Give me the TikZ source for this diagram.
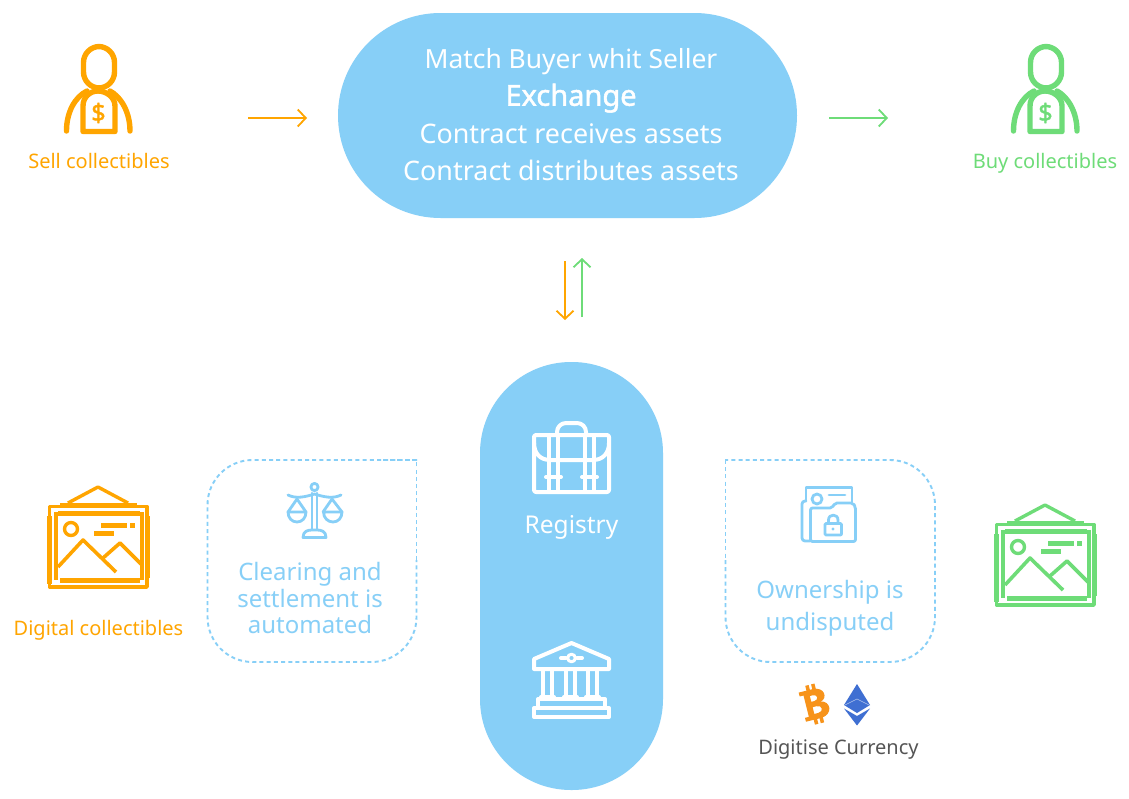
\documentclass[tikz,border=0pt]{standalone}
\usepackage{fontspec}
\setmainfont{Noto Sans}[AutoFakeBold=1.6]
\usetikzlibrary{arrows.meta}
\definecolor{skyb}{HTML}{87CFF7}
\definecolor{orng}{HTML}{FFA500}
\definecolor{grn}{HTML}{6EDC78}
\definecolor{grayt}{HTML}{555555}
\definecolor{ethb}{HTML}{3F6FD2}
\definecolor{btco}{HTML}{F7931A}
\tikzset{
  x=1pt,y=-1pt,
  capsule/.style={fill=skyb,draw=none,inner sep=0pt},
  lab/.style={inner sep=0pt,anchor=base,font=\fontsize{20}{23}\selectfont},
  bluelab/.style={inner sep=0pt,align=center,text=skyb,font=\fontsize{24}{26.5}\selectfont},
  flow/.style={line width=1.8pt,-{Straight Barb[length=8pt,width=17pt,line width=1.8pt]}},
  dashbox/.style={draw=skyb,line width=1.9pt,dash pattern=on 4pt off 3.2pt},
  ico/.style={line width=4pt,line join=round,line cap=round},
}
\newcommand{\iconperson}[2]{%
\begin{scope}[shift={(#1,0)},ico,draw=#2,line width=5.4pt]
  \draw[rounded corners=16pt] (83.5,46.5) rectangle (114.5,88);
  \draw (66.5,131) .. controls (66.5,112) and (75,97) .. (87,91);
  \draw (130,131) .. controls (130,112) and (121,97) .. (110,91);
  \draw (83,131.5) -- (83,106) .. controls (83,97) and (90,91) .. (98,91) .. controls (106,91) and (115,97) .. (115,106) -- (115,131.5) -- cycle;
  \node[inner sep=0pt,text=#2,font=\fontsize{25}{25}\selectfont\bfseries] at (98.5,113) {\$};
\end{scope}}
\newcommand{\iconframe}[3]{%
\begin{scope}[shift={(#1,#2)},draw=#3,line join=round]
  \draw[line width=3.4pt] (68,503) -- (98,487) -- (128,503);
  \draw[line width=3.4pt] (49.5,506.5) rectangle (147,587);
  \draw[line width=5pt] (60,505.5) -- (137,505.5);
  \draw[line width=5pt] (58,513) -- (140,513);
  \draw[line width=5pt] (49,516) -- (49,584);
  \draw[line width=4pt] (56,512) -- (56,580);
  \draw[line width=4pt] (142,512) -- (142,580);
  \draw[line width=5pt] (147,516) -- (147,578);
  \draw[line width=5pt] (60,580.5) -- (140,580.5);
  \draw[line width=4pt] (58,587) -- (137,587);
  \draw[line width=3.4pt] (71,529) circle (6.5);
  \draw[line width=5pt] (101,525.5) -- (127,525.5) (130,525.5) -- (135,525.5);
  \draw[line width=5pt] (94,533.5) -- (114,533.5);
  \draw[line width=3.6pt] (58,567) -- (83,540) -- (116,572);
  \draw[line width=3.6pt] (103,558) -- (120,543) -- (141,564);
\end{scope}}
\begin{document}
\begin{tikzpicture}
\useasboundingbox (0,0) rectangle (1129,798);
\fill[white] (0,0) rectangle (1129,798);

% capsules
\node[capsule,rounded corners=102.5pt,minimum width=459pt,minimum height=205pt] (exchange) at (567.5,115.5) {};
\node[inner sep=0pt,align=center,text=white,font=\fontsize{26.9}{37.3}\selectfont] (exchangelabel) at (571,114.5)
  {{\fontsize{26.4}{37.3}\selectfont Match Buyer whit Seller}\\{\fontsize{29}{37.3}\selectfont\bfseries Exchange}\\Contract receives assets\\Contract distributes assets};
\node[capsule,rounded corners=91pt,minimum width=183pt,minimum height=428pt] (registry) at (571.5,576) {};
\node[inner sep=0pt,anchor=base,text=white,font=\fontsize{24.5}{26}\selectfont] (registrylabel) at (571.5,533) {Registry};

% dashed boxes
\draw[dashbox,rounded corners=45pt] (417,460) -- (207.5,460) -- (207.5,662) -- (416.5,662) -- (416.5,560);
\draw[dashbox,rounded corners=0pt] (416.5,560) -- (416.5,460) -- (380,460);
\draw[dashbox,rounded corners=45pt] (725.5,560) -- (725.5,662) -- (935,662) -- (935,460) -- (725,460);
\draw[dashbox] (725.5,460) -- (725.5,560);

\node[bluelab] (clearing) at (310,598) {Clearing and\\settlement is\\automated};
\node[bluelab,font=\fontsize{24}{32}\selectfont] (ownership) at (830,608) {Ownership is\\undisputed};

% labels
\node[lab,text=orng] (sell) at (99,168) {Sell collectibles};
\node[lab,text=grn] (buy) at (1045,168) {Buy collectibles};
\node[lab,text=orng] (digital) at (98.5,635) {Digital collectibles};
\node[lab,text=grayt] (digitise) at (838.5,754) {Digitise Currency};

% arrows
\coordinate (a1) at (248,118); \coordinate (a2) at (307,118);
\coordinate (b1) at (829,118); \coordinate (b2) at (888,118);
\coordinate (c1) at (565,261); \coordinate (c2) at (565,320);
\coordinate (d1) at (582,317); \coordinate (d2) at (582,258);
\draw[flow,draw=orng] (a1) -- (a2);
\draw[flow,draw=grn] (b1) -- (b2);
\draw[flow,draw=orng] (c1) -- (c2);
\draw[flow,draw=grn] (d1) -- (d2);

% persons
\iconperson{0}{orng}
\iconperson{947}{grn}

% frames
\iconframe{0}{0}{orng}
\iconframe{947}{18}{grn}

% briefcase
\begin{scope}[ico,draw=white]
  \draw[rounded corners=2pt] (534,435) rectangle (609,492);
  \draw[rounded corners=9pt] (557,434) -- (557,423) -- (586,423) -- (586,434);
  \draw (534,443) .. controls (534,453) and (540,460) .. (550,460) -- (593,460) .. controls (603,460) and (609,453) .. (609,443);
  \draw (549,435) -- (549,492) (558,435) -- (558,492) (585,435) -- (585,492) (594,435) -- (594,492);
  \draw (546,477) -- (561,477) (582,477) -- (597,477);
\end{scope}

% bank
\begin{scope}[ico,draw=white]
  \draw (571.5,643) -- (609,659) -- (609,669) -- (534,669) -- (534,659) -- cycle;
  \draw (561,658) -- (566,658) (577,658) -- (582,658);
  \draw[line width=3pt] (571.5,658) circle (3.8);
  \foreach \cx in {547.5,570.5,592.5}{
    \draw (\cx-4.5,670) -- (\cx-4.5,697) (\cx+4.5,670) -- (\cx+4.5,697);
    \draw (\cx-6.5,697) -- (\cx+6.5,697);
  }
  \draw (538,699) -- (605,699) -- (605,708) -- (538,708) -- cycle;
  \draw (534,708) -- (609,708) -- (609,717) -- (534,717) -- cycle;
\end{scope}

% scales
\begin{scope}[line width=2.8pt,draw=skyb,line cap=round,line join=round]
  \draw (314.5,487) circle (3.6);
  \draw (312,493) -- (312,529) (317,493) -- (317,529);
  \draw (288,495) .. controls (296,499) and (305,497) .. (314.5,494) .. controls (324,497) and (333,499) .. (341,495);
  \draw (303,537.5) .. controls (303,531) and (308,530) .. (312,530) -- (317,530) .. controls (321,530) and (326,531) .. (326,537.5) -- cycle;
  \draw (297,499) -- (288,512) (297,499) -- (306,512);
  \draw (332,499) -- (323,512) (332,499) -- (342,512);
  \draw (288,512) -- (306,512) .. controls (306,518) and (302,522) .. (297,522) .. controls (292,522) and (288,518) .. (288,512) -- cycle;
  \draw (323.5,512) -- (342,512) .. controls (342,518) and (338,522) .. (333,522) .. controls (328,522) and (323.5,518) .. (323.5,512) -- cycle;
\end{scope}

% folder with lock
\begin{scope}[line width=2.8pt,draw=skyb,line cap=round,line join=round]
  \draw (806,501) -- (806,487.5) -- (852,487.5) -- (852,502);
  \draw[rounded corners=3pt] (806,501) -- (802,501) -- (802,541) -- (810,541);
  \draw (817,499) circle (5);
  \draw (829,495) -- (845,495);
  \draw[rounded corners=2pt] (810.5,541.5) -- (810.5,508) -- (832,508) -- (835,503) -- (853,503) -- (855.5,507) -- (855.5,541.5) -- cycle;
  \draw[rounded corners=1pt] (825,523.5) rectangle (841.5,535);
  \draw (828.5,523) -- (828.5,520) .. controls (828.5,513.5) and (838,513.5) .. (838,520) -- (838,523);
  \fill[skyb] (833,529) circle (1.6);
\end{scope}

% bitcoin
\begin{scope}[shift={(813,704.5)},rotate=14]
  \fill[btco,even odd rule]
    (-11,-15) -- (3,-15) .. controls (16,-15) and (16,-2) .. (8,-1) .. controls (18,0) and (18,15) .. (4,15) -- (-11,15) -- (-11,11) -- (-7,11) -- (-7,-11) -- (-11,-11) -- cycle
    (-1,-9) -- (2,-9) .. controls (7,-9) and (7,-3) .. (2,-3) -- (-1,-3) -- cycle
    (-1,2.5) -- (3,2.5) .. controls (9,2.5) and (9,9.5) .. (3,9.5) -- (-1,9.5) -- cycle;
  \fill[btco] (-3,-20) rectangle (0.5,-14) (3,-20) rectangle (6.5,-14) (-3,14) rectangle (0.5,20) (3,14) rectangle (6.5,20);
\end{scope}

% ethereum
\fill[ethb] (857,684) -- (870,705) -- (857,713) -- (844,705) -- cycle;
\fill[ethb] (844,708.5) -- (857,716) -- (870,708.5) -- (857,725.5) -- cycle;
\draw[white,opacity=.6,line width=0.6pt] (845,705) -- (857,699) -- (869,705);
\end{tikzpicture}
\end{document}
